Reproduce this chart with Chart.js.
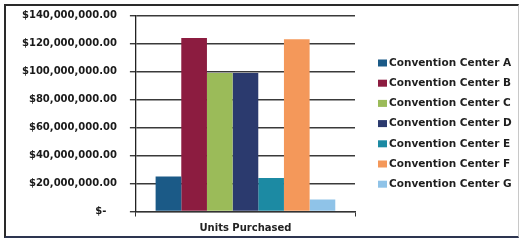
<!DOCTYPE html>
<html>
<head>
<meta charset="utf-8">
<script src="https://cdn.jsdelivr.net/npm/chart.js@4"></script>
<style>
  html,body{margin:0;padding:0;background:#fff;}
  #wrap{position:relative;width:520px;height:244px;}
  #frame{position:absolute;left:4px;top:4px;width:512px;height:230px;
    border-top:2px solid #2a2a2a;border-left:2px solid #2a2a2a;
    border-bottom:2px solid #2d3550;border-right:1px solid #c8c8c8;}
  canvas{position:absolute;left:0;top:0;}
</style>
</head>
<body>
<div id="wrap">
  <canvas id="chart" width="520" height="244"></canvas>
  <div id="frame"></div>
</div>
<script>
/* DATA */
const categories = ["Units Purchased"];
const centers = ["Convention Center A","Convention Center B","Convention Center C","Convention Center D","Convention Center E","Convention Center F","Convention Center G"];
const values = [25000000, 124000000, 99000000, 99000000, 24000000, 123000000, 8500000];
const colors = ["#1b5a87","#8c1c40","#9bbb59","#2b3a6e","#1c8aa3","#f4985a","#8fc3e8"];
const yTicks = [0, 20000000, 40000000, 60000000, 80000000, 100000000, 120000000, 140000000];

// accounting style: zero shows as "$-" with some trailing space
function money(v){
    if(v===0) return "$-   ";
    return "$"+v.toLocaleString("en-US",{minimumFractionDigits:2,maximumFractionDigits:2});
}

const font = "'DejaVu Sans'";
const datasets = centers.map((name,i)=>({
    label:name,
    data:[values[i]],
    backgroundColor:colors[i],
    borderWidth:0,
    barPercentage:1,
    categoryPercentage:0.82
}));

/* legend on the right, drawn from the datasets */
const sideLegend = {
    id:"sideLegend",
    afterDraw(chart){
        const c = chart.ctx;
        c.save();
        c.font = "bold 10.5px "+font;
        c.textBaseline = "middle";
        chart.data.datasets.forEach((ds,i)=>{
            const y = 63 + i*20.2;
            c.fillStyle = ds.backgroundColor;
            c.fillRect(378, y-3.5, 9, 7);
            c.fillStyle = "#1e1e1e";
            c.fillText(ds.label, 389, y);
        });
        c.restore();
    }
};

new Chart(document.getElementById("chart"),{
    type:"bar",
    data:{labels:categories, datasets:datasets},
    plugins:[sideLegend],
    options:{
        responsive:false,
        animation:false,
        layout:{padding:{left:9,top:14,right:165,bottom:3.5}},
        plugins:{
            tooltip:{enabled:false},
            legend:{display:false}
        },
        scales:{
            x:{
                grid:{drawOnChartArea:false, tickLength:5, color:"#333"},
                border:{display:true, color:"#333", width:1.3},
                ticks:{color:"#222", padding:6, font:{family:font, size:10, weight:"bold"}}
            },
            y:{
                min:0, max:140000000,
                afterBuildTicks:s=>{ s.ticks = yTicks.map(v=>({value:v})); },
                grid:{color:"#3a3a3a", lineWidth:1.4, tickLength:6},
                border:{display:true, color:"#222", width:1.3},
                ticks:{color:"#1a1a1a", padding:13, font:{family:font, size:10, weight:"bold", lineHeight:0.5},
                    callback:v=>money(v)}
            }
        }
    }
});
</script>
</body>
</html>
